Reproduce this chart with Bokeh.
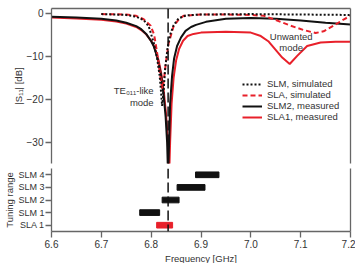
from bokeh.plotting import figure
from bokeh.layouts import column
from bokeh.models import (Range1d, FactorRange, LinearAxis, FixedTicker, Span,
                          Label, Legend, LegendItem, ColumnDataSource)
from bokeh.embed import file_html
from bokeh.resources import INLINE

# ---------------- data ----------------
slm2_meas_f = [6.60, 6.65, 6.70, 6.73, 6.75, 6.77, 6.78, 6.79, 6.80, 6.805, 6.81, 6.815,
               6.82, 6.825, 6.829, 6.832, 6.834, 6.836, 6.838, 6.842, 6.846, 6.852, 6.86,
               6.869, 6.88, 6.89, 6.91, 6.95, 7.00, 7.05, 7.10, 7.15, 7.20]
slm2_meas_db = [-0.8, -1.0, -1.3, -1.7, -2.2, -3.0, -3.7, -4.8, -6.5, -7.6, -9.4, -11.5,
                -14.5, -19.0, -24.0, -30.0, -38.0, -30.0, -21.0, -14.5, -10.5, -7.6, -5.6,
                -4.1, -3.2, -2.7, -2.0, -1.3, -1.1, -1.3, -1.7, -2.2, -2.6]

sla1_meas_f = [6.60, 6.65, 6.70, 6.73, 6.75, 6.77, 6.78, 6.79, 6.80, 6.805, 6.81, 6.815,
               6.82, 6.825, 6.83, 6.833, 6.836, 6.838, 6.841, 6.845, 6.85, 6.856, 6.864,
               6.873, 6.885, 6.90, 6.95, 7.00, 7.02, 7.035, 7.046, 7.063, 7.078, 7.093,
               7.113, 7.14, 7.17, 7.20]
sla1_meas_db = [-1.0, -1.2, -1.5, -1.9, -2.4, -3.2, -3.9, -4.9, -6.4, -7.5, -9.0, -11.0,
                -13.8, -17.8, -23.5, -29.0, -38.0, -30.0, -21.0, -15.0, -11.0, -8.3, -6.4,
                -5.3, -4.8, -4.5, -4.3, -4.5, -5.3, -6.5, -8.0, -10.3, -11.8, -9.9,
                -7.6, -6.8, -6.6, -6.6]

slm_sim_f = [6.70, 6.75, 6.77, 6.785, 6.795, 6.805, 6.812, 6.817, 6.820, 6.822, 6.825,
             6.828, 6.833, 6.838, 6.845, 6.855, 6.87, 6.90, 7.00, 7.10, 7.20]
slm_sim_db = [-0.2, -0.4, -0.8, -1.6, -3.0, -6.8, -10.5, -14.5, -18.5, -21.5, -18.0,
              -13.0, -8.0, -5.0, -2.8, -1.2, -0.5, -0.3, -0.2, -0.3, -0.4]

sla_sim_f = [6.70, 6.75, 6.77, 6.785, 6.799, 6.806, 6.812, 6.817, 6.822, 6.825, 6.830,
             6.835, 6.845, 6.855, 6.865, 6.90, 6.95, 7.00, 7.026, 7.046, 7.08, 7.106,
             7.13, 7.146, 7.166, 7.187, 7.20]
sla_sim_db = [-0.2, -0.3, -0.6, -1.4, -2.9, -5.0, -9.2, -13.5, -17.5, -16.0, -11.0,
              -7.0, -3.0, -1.5, -0.6, -0.3, -0.3, -0.4, -0.6, -1.4, -2.9, -3.9,
              -4.6, -4.2, -2.9, -1.4, -0.6]

tuning_names = ["SLA 1", "SLM 1", "SLM 2", "SLM 3", "SLM 4"]
tuning_start = [6.811, 6.777, 6.822, 6.852, 6.889]
tuning_end = [6.843, 6.817, 6.856, 6.908, 6.936]

resonance_ghz = 6.834
s11_ticks = [0, -10, -20, -30]
freq_ticks = [6.6, 6.7, 6.8, 6.9, 7.0, 7.1, 7.2]
freq_tick_labels = ["6.6", "6.7", "6.8", "6.9", "7.0", "7.1", "7.2"]

# ---------------- style ----------------
RED = "#e8202a"
BLACK = "#111111"
AXIS = "#666666"
TXT = "#333333"
FONT = "Liberation Sans"
tuning_colors = [RED, BLACK, BLACK, BLACK, BLACK]

xr = Range1d(6.6, 7.2)


def style_axis(ax, size="10px"):
    ax.axis_line_color = AXIS
    ax.axis_line_width = 1.3
    ax.major_tick_line_color = AXIS
    ax.major_tick_line_width = 1.3
    ax.minor_tick_line_color = None
    ax.major_tick_in = 0
    ax.major_tick_out = 6
    ax.major_label_text_font = FONT
    ax.major_label_text_font_size = size
    ax.major_label_text_color = TXT
    ax.major_label_standoff = 2
    ax.axis_label_text_font = FONT
    ax.axis_label_text_font_size = "9.5px"
    ax.axis_label_text_font_style = "normal"
    ax.axis_label_text_color = TXT
    ax.axis_label_standoff = 0


def blank_axis(cls, loc, p):
    ax = cls(ticker=FixedTicker(ticks=[]))
    ax.axis_line_color = AXIS
    ax.axis_line_width = 1.3
    ax.major_tick_line_color = None
    ax.minor_tick_line_color = None
    ax.major_label_text_font_size = "0px"
    ax.major_label_standoff = 0
    ax.major_tick_out = 0
    p.add_layout(ax, loc)


# ---------------- top panel ----------------
p1 = figure(frame_width=299, frame_height=155, x_range=xr, y_range=Range1d(-34.9, 1.1),
            output_backend="svg", toolbar_location=None, x_axis_location=None,
            min_border_left=51, min_border_right=5, min_border_top=8, min_border_bottom=2)
p1.grid.visible = False
p1.outline_line_color = None
p1.yaxis.ticker = FixedTicker(ticks=s11_ticks)
p1.yaxis.axis_label = "|S₁₁| [dB]"
style_axis(p1.yaxis[0])
blank_axis(LinearAxis, "right", p1)
blank_axis(LinearAxis, "above", p1)

r_sla1 = p1.line(sla1_meas_f, sla1_meas_db, line_color=RED, line_width=2)
r_slm2 = p1.line(slm2_meas_f, slm2_meas_db, line_color=BLACK, line_width=2)
r_sla_sim = p1.line(sla_sim_f, sla_sim_db, line_color=RED, line_width=2, line_dash="5 3")
r_slm_sim = p1.line(slm_sim_f, slm_sim_db, line_color=BLACK, line_width=2, line_dash="2 2")

p1.add_layout(Span(location=resonance_ghz, dimension="height", line_color=BLACK,
                   line_width=1.5, line_dash="10 4"))

for txt, x, y, align in [("TE₀₁₁-like", 6.805, -18.0, "right"), ("mode", 6.805, -20.7, "right"),
                         ("Unwanted", 7.081, -5.3, "center"), ("mode", 7.081, -7.9, "center")]:
    p1.add_layout(Label(x=x, y=y, text=txt, text_align=align, text_baseline="middle",
                        text_font=FONT, text_font_size="9.5px", text_color=TXT))

legend = Legend(items=[LegendItem(label="SLM, simulated", renderers=[r_slm_sim]),
                       LegendItem(label="SLA, simulated", renderers=[r_sla_sim]),
                       LegendItem(label="SLM2, measured", renderers=[r_slm2]),
                       LegendItem(label="SLA1, measured", renderers=[r_sla1])],
                location=(191, 41), glyph_width=20, glyph_height=8, label_height=8,
                label_text_font=FONT, label_text_font_size="9.5px", label_text_color=TXT,
                label_standoff=5, spacing=-3, padding=0, margin=0,
                border_line_color=None, background_fill_alpha=0)
p1.add_layout(legend)

# ---------------- bottom panel ----------------
src = ColumnDataSource(dict(name=tuning_names, start=tuning_start, end=tuning_end,
                            color=tuning_colors))
p2 = figure(frame_width=299, frame_height=63, x_range=xr,
            y_range=FactorRange(factors=tuning_names),
            output_backend="svg", toolbar_location=None,
            min_border_left=51, min_border_right=5, min_border_top=3, min_border_bottom=5)
p2.grid.visible = False
p2.outline_line_color = None
p2.xaxis.ticker = FixedTicker(ticks=freq_ticks)
p2.xaxis.major_label_overrides = dict(zip(freq_ticks, freq_tick_labels))
p2.xaxis.axis_label = "Frequency [GHz]"
p2.yaxis.axis_label = "Tuning range"
style_axis(p2.xaxis[0])
style_axis(p2.yaxis[0], size="9px")
p2.yaxis.major_label_standoff = 1
p2.xaxis.axis_label_standoff = 2
blank_axis(LinearAxis, "right", p2)

p2.hbar(y="name", left="start", right="end", height=0.45, color="color", source=src)
p2.add_layout(Span(location=resonance_ghz, dimension="height", line_color=BLACK,
                   line_width=1.5, line_dash="10 4"))

layout = column(p1, p2, spacing=0)
open("out.html", "w").write(file_html(layout, INLINE))
